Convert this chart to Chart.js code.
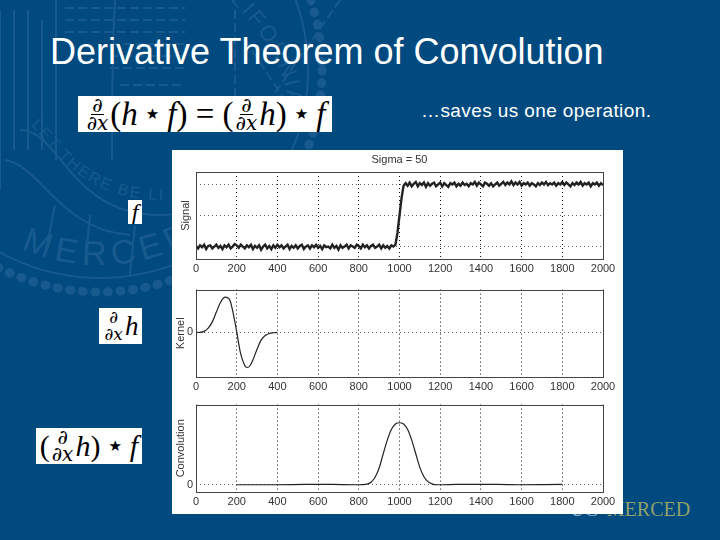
<!DOCTYPE html>
<html>
<head>
<meta charset="utf-8">
<title>Derivative Theorem of Convolution</title>
<script src="https://cdn.jsdelivr.net/npm/chart.js@4"></script>
<style>
  html, body { margin: 0; padding: 0; }
  body { width: 720px; height: 540px; background: #004a80; position: relative; overflow: hidden; font-family: "Liberation Sans", Arial, sans-serif; }
  #seal { position: absolute; left: 0; top: 0; }
  h1 { position: absolute; left: 50px; top: 33px; margin: 0; font-size: 36px; line-height: 38px; font-weight: normal; color: #fff; white-space: nowrap; }
  #note { position: absolute; left: 421px; top: 100px; font-size: 19px; line-height: 22px; color: #fff; white-space: nowrap; letter-spacing: 0.4px; }
  #panel { position: absolute; left: 172px; top: 150px; width: 451px; height: 364px; background: #fff; }
  canvas { position: absolute; left: 172px; filter: blur(0.35px); }
  #logo { position: absolute; left: 570px; top: 497px; font-family: "Liberation Serif", serif; font-size: 20px; line-height: 24px; color: #93a06a; white-space: nowrap; }
  #logo span { color: #8fb4d0; margin-right: 9px; }
  .eq { position: absolute; background: #fff; color: #000; font-family: "Liberation Serif", serif; white-space: nowrap; display: flex; align-items: center; justify-content: center; overflow: hidden; }
  .eq i { font-style: italic; }
  .frac { display: inline-flex; flex-direction: column; align-items: center; font-size: 20px; line-height: 17px; margin: 0 1px; font-family: "DejaVu Serif", serif; }
  .frac b { font-weight: normal; padding: 0 1px; }
  .frac b:first-child { border-bottom: 1px solid #000; }
  .star { font-family: "DejaVu Sans", sans-serif; font-size: 15px; margin: 0 8px; }
</style>
</head>
<body>
<svg id="seal" width="720" height="540" fill="none" stroke="#185a8e" stroke-width="2">
  <circle cx="100" cy="70" r="222" stroke-width="9" stroke-dasharray="1 11.6" stroke-linecap="round"/>
  <circle cx="100" cy="70" r="208"/>
  <path d="M0 10V190M14 10V150M28 10V150M42 20V150M56 0V160"/>
  <path d="M65 8H185M65 20H185M65 32H185M110 44H185M110 56H185M110 68H185M120 85H185M125 110H190M340 0L270 100M235 10V110M245 40L305 130" stroke-dasharray="9 4"/>
  <path d="M115 0C112 50 112 100 112 160"/>
  <path d="M20 130C60 130 70 215 160 215C200 215 230 190 235 170"/>
  <path d="M5 160C40 165 60 230 130 235M55 205L45 255M90 215L85 265M135 225L130 275"/>
  <defs>
    <path id="arcBottom" d="M-95 70A195 195 0 0 0 295 70"/>
    <path id="arcBanner" d="M28 122C55 150 80 200 165 200"/>
    <path id="arcRight" d="M230 0C280 50 295 90 285 140"/>
  </defs>
  <text font-family="Liberation Sans" font-size="34" fill="#185a8e" stroke="none" letter-spacing="6"><textPath href="#arcBottom" startOffset="225">MERCED</textPath></text>
  <text font-family="Liberation Sans" font-size="16" fill="#185a8e" stroke="none" letter-spacing="2"><textPath href="#arcBanner" startOffset="4">LET THERE BE LIGHT</textPath></text>
  <text font-family="Liberation Sans" font-size="22" fill="#185a8e" stroke="none" letter-spacing="3"><textPath href="#arcRight">LIFORNIA</textPath></text>
</svg>

<h1>Derivative Theorem of Convolution</h1>
<div id="note">…saves us one operation.</div>

<div class="eq" style="left:78px;top:96px;width:254px;height:36px;font-size:33px;">
  <span class="frac"><b>∂</b><b><i>∂x</i></b></span>(<i>h</i><span class="star">★</span><i>f</i>)&nbsp;=&nbsp;(<span class="frac"><b>∂</b><b><i>∂x</i></b></span><i>h</i>)<span class="star">★</span><i>f</i>
</div>
<div class="eq" style="left:128px;top:200px;width:14px;height:24px;font-size:24px;"><i>f</i></div>
<div class="eq" style="left:99px;top:308px;width:43px;height:36px;font-size:27px;">
  <span class="frac" style="font-size:17px"><b style="border:0">∂</b><b><i>∂x</i></b></span><i>h</i>
</div>
<div class="eq" style="left:36px;top:428px;width:106px;height:36px;font-size:30px;">
  (<span class="frac"><b style="border:0">∂</b><b><i>∂x</i></b></span><i>h</i>)<span class="star">★</span><i>f</i>
</div>

<div id="logo"><span>UC</span>MERCED</div>
<div id="panel"></div>
<canvas id="signal-chart" width="451" height="130" style="top:150px"></canvas>
<canvas id="kernel-chart" width="451" height="115" style="top:280px"></canvas>
<canvas id="conv-chart" width="451" height="119" style="top:395px"></canvas>

<script>
// Tick labels shared by the three panels
const xTicks = [0, 200, 400, 600, 800, 1000, 1200, 1400, 1600, 1800, 2000];

// Signal, one reading every 10 samples
const signalStep = 10;
const signalY = [
  0.01, -0.03, 0.02, -0.01, 0.03, -0.04, 0.01, 0.02, -0.03, 0.00, 0.03, -0.02, 0.01, -0.04, 0.02, -0.01, 0.03, -0.03, 0.00, 0.04,
  0.02, -0.02, 0.03, 0.00, -0.03, 0.02, -0.01, 0.03, -0.04, 0.01, -0.02, 0.02, -0.05, 0.00, 0.03, -0.03, 0.01, -0.04, 0.02, -0.02,
  0.03, -0.01, 0.02, -0.03, 0.00, 0.03, -0.04, 0.01, -0.02, 0.02, -0.03, 0.01, 0.03, -0.04, 0.00, 0.02, -0.03, 0.02, -0.01, 0.03,
  -0.02, 0.01, -0.04, 0.02, -0.01, 0.00, -0.03, 0.03, -0.02, 0.01, -0.05, 0.02, -0.02, 0.00, 0.03, -0.03, 0.02, 0.00, -0.02, 0.03,
  0.01, -0.03, 0.03, -0.01, 0.02, -0.03, 0.01, 0.03, -0.02, 0.00, 0.03, -0.03, 0.02, -0.02, 0.01, -0.03, 0.02, 0.00,
  0.03, 0.22, 0.50, 0.78, 0.98,
  1.02, 0.98, 1.03, 0.97, 1.01, 1.04, 0.97, 1.02, 0.99, 1.03, 0.96, 1.02, 0.98, 1.01, 1.03, 0.97, 1.00, 1.03, 0.97, 1.02,
  0.99, 0.96, 1.02, 1.00, 1.03, 0.97, 1.01, 0.98, 1.03, 0.99, 1.01, 0.97, 1.02, 1.00, 1.04, 0.98, 1.03, 1.00, 0.97, 1.03,
  1.01, 0.98, 1.02, 0.97, 1.00, 1.03, 0.98, 1.01, 1.04, 0.99, 1.03, 1.00, 1.05, 0.99, 1.03, 1.00, 1.04, 0.98, 1.02, 1.00,
  1.03, 0.98, 1.02, 1.00, 0.97, 1.02, 0.99, 1.03, 1.00, 1.04, 0.99, 1.02, 1.00, 1.03, 0.98, 1.02, 1.00, 1.04, 0.99, 1.03,
  1.00, 0.97, 1.02, 0.99, 1.03, 1.00, 1.04, 0.98, 1.02, 1.00, 1.03, 0.97, 1.02, 1.00, 1.03, 0.98, 1.02, 0.99
];
const signalTicks = [0, 0.5, 1];

// Kernel, drawn over its own 0-400 support
const kernelX = [0, 20, 40, 60, 80, 100, 120, 135, 150, 165, 180, 200, 220, 240, 252, 265, 280, 300, 320, 340, 360, 380, 400];
const kernelY = [0, 0.00, 0.03, 0.12, 0.30, 0.58, 0.85, 0.98, 1.00, 0.94, 0.62, 0.02, -0.62, -0.95, -1.00, -0.95, -0.78, -0.48, -0.22, -0.09, -0.03, -0.01, 0];
const kernelTicks = [0];

// Convolution, flat away from the step at 1000
const convX = [200, 400, 540, 670, 800, 840, 860, 880, 900, 920, 940, 960, 980, 1000, 1020, 1040, 1060, 1080, 1100, 1120, 1140, 1160, 1180, 1280, 1480, 1600, 1800];
const convY = [0, 0, 0.005, 0.005, 0, 0.01, 0.04, 0.12, 0.27, 0.50, 0.72, 0.89, 0.98, 1.00, 0.98, 0.89, 0.72, 0.50, 0.28, 0.13, 0.05, 0.015, 0, 0.005, 0.005, 0, 0.005];
const convTicks = [0];

const inkColor = '#222';
const labelColor = '#333';
const labelFont = { family: '"Liberation Sans", Arial, sans-serif', size: 11 };

// MATLAB style box round the axes
const boxPlugin = {
  id: 'axesBox',
  afterDraw(chart) {
    const { ctx, chartArea: area } = chart;
    ctx.save();
    ctx.strokeStyle = '#444';
    ctx.lineWidth = 1;
    ctx.strokeRect(Math.round(area.left) + 0.5, Math.round(area.top) + 0.5, Math.round(area.width), Math.round(area.height));
    ctx.restore();
  }
};

function createPanel(id, opts) {
  return new Chart(document.getElementById(id), {
    type: 'line',
    data: {
      datasets: [{
        data: opts.points,
        borderColor: inkColor,
        borderWidth: opts.lineWidth,
        pointRadius: 0,
        tension: opts.tension,
        fill: false
      }]
    },
    options: {
      responsive: false,
      animation: false,
      layout: { padding: { top: opts.top, right: 20, left: 0, bottom: 0 } },
      plugins: {
        legend: { display: false },
        tooltip: { enabled: false },
        title: opts.title ? {
          display: true,
          text: opts.title,
          color: labelColor,
          font: { ...labelFont, weight: 'normal' },
          fullSize: false,
          padding: { top: 3, bottom: 5.8 }
        } : { display: false }
      },
      scales: {
        x: {
          type: 'linear',
          min: 0,
          max: 2000,
          afterBuildTicks: scale => { scale.ticks = xTicks.map(value => ({ value })); },
          afterFit: scale => { scale.height = opts.axisHeight; },
          ticks: { color: labelColor, font: labelFont, maxRotation: 0, autoSkip: false, padding: 3, callback: value => String(value) },
          grid: { color: '#111', drawTicks: false },
          border: { dash: [1, 3], display: false }
        },
        y: {
          min: opts.yMin,
          max: opts.yMax,
          afterBuildTicks: scale => { scale.ticks = opts.yTicks.map(value => ({ value })); },
          afterFit: scale => { scale.width = 24; },
          ticks: {
            color: labelColor,
            font: labelFont,
            padding: 3,
            callback: value => (opts.showZero && value === 0 ? '0' : '')
          },
          title: { display: true, text: opts.yTitle, color: labelColor, font: labelFont, padding: opts.titlePadding },
          grid: { color: '#666', drawTicks: false },
          border: { dash: [1, 3], display: false }
        }
      }
    },
    plugins: [boxPlugin]
  });
}

createPanel('signal-chart', {
  points: signalY.map((y, i) => ({ x: i * signalStep, y })),
  lineWidth: 2.4,
  tension: 0,
  top: 0,
  title: 'Sigma = 50',
  axisHeight: 21,
  yMin: -0.2,
  yMax: 1.2,
  yTicks: signalTicks,
  yTitle: 'Signal',
  showZero: false,
  titlePadding: { top: 7, bottom: 0 }
});

createPanel('kernel-chart', {
  points: kernelX.map((x, i) => ({ x, y: kernelY[i] })),
  lineWidth: 1.2,
  tension: 0.35,
  top: 8,
  axisHeight: 18,
  yMin: -1.27,
  yMax: 1.22,
  yTicks: kernelTicks,
  yTitle: 'Kernel',
  showZero: true,
  titlePadding: { top: 2, bottom: 0 }
});

createPanel('conv-chart', {
  points: convX.map((x, i) => ({ x, y: convY[i] })),
  lineWidth: 1.2,
  tension: 0.3,
  top: 9,
  axisHeight: 22,
  yMin: -0.117,
  yMax: 1.293,
  yTicks: convTicks,
  yTitle: 'Convolution',
  showZero: true,
  titlePadding: { top: 2, bottom: 0 }
});
</script>
</body>
</html>
